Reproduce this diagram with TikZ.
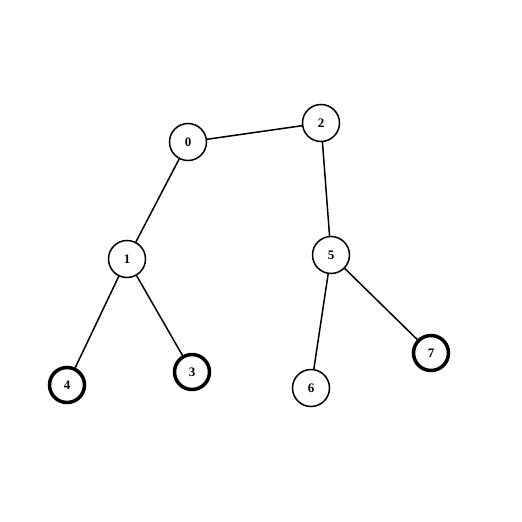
\documentclass[tikz,border=0pt]{standalone}
\usepackage{fontspec}
\setmainfont{Liberation Serif}
\begin{document}
\begin{tikzpicture}[x=1pt,y=-1pt,
  vert/.style={circle,draw,line width=1.5pt,minimum size=37pt,inner sep=0pt,font=\bfseries\fontsize{13}{15}\selectfont,fill=white},
  leaf/.style={vert,line width=3.5pt,minimum size=35pt},
  edge/.style={line width=1.5pt}]
\useasboundingbox (0,0) rectangle (522,522);
\node[vert] (n0) at (188,142) {0};
\node[vert] (n2) at (321,123) {2};
\node[vert] (n1) at (127,259) {1};
\node[vert] (n5) at (331,255) {5};
\node[leaf] (n4) at (67,385) {4};
\node[leaf] (n3) at (192,372) {3};
\node[vert] (n6) at (311,388) {6};
\node[leaf] (n7) at (431,353) {7};
\draw[edge] (n0) -- (n2);
\draw[edge] (n0) -- (n1);
\draw[edge] (n2) -- (n5);
\draw[edge] (n1) -- (n4);
\draw[edge] (n1) -- (n3);
\draw[edge] (n5) -- (n6);
\draw[edge] (n5) -- (n7);
\end{tikzpicture}
\end{document}
